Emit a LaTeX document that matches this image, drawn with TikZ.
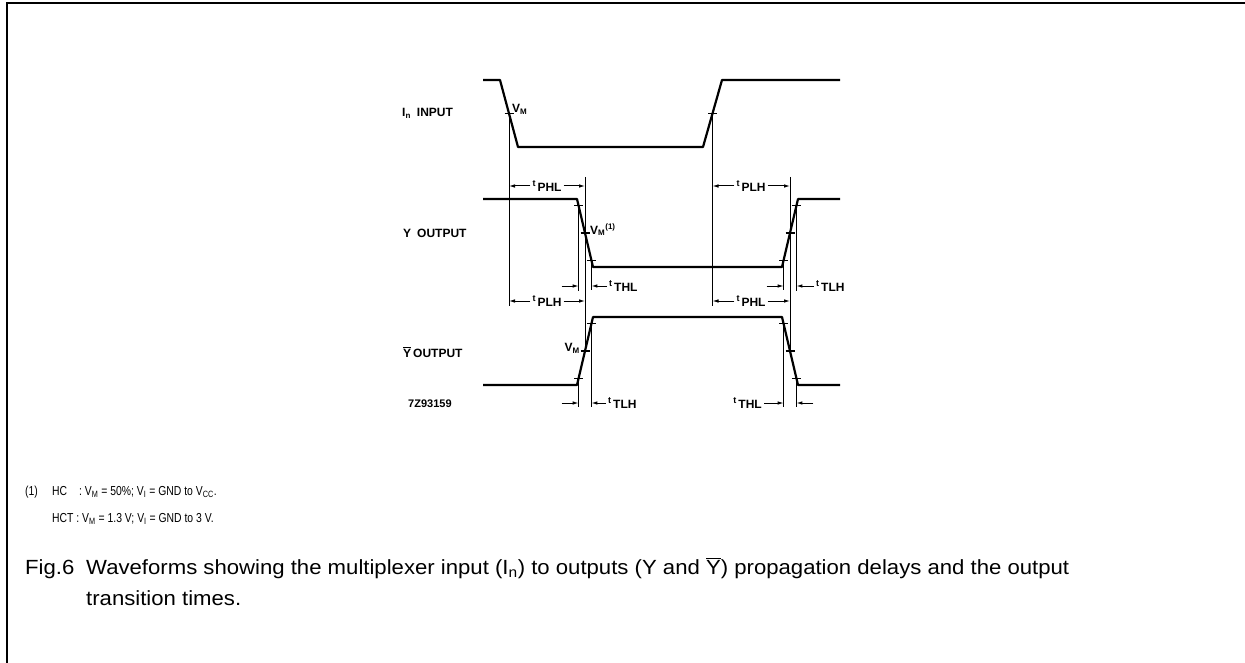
\documentclass[tikz,border=0pt]{standalone}
\usepackage{fontspec}
\setmainfont{Liberation Sans}
\newfontfamily\narrowfont{Liberation Sans}[FakeStretch=0.8]
\newfontfamily\capfont{Liberation Sans}[FakeStretch=1.08]
\usetikzlibrary{positioning, calc, arrows.meta}
\newcommand{\tdel}[1]{\raisebox{3pt}{\fontsize{9}{9}\selectfont t}\,\raisebox{-1.5pt}{#1}}
\tikzset{
x=1pt, y=-1pt, % pixel units, y runs downwards
frame/.style={line width=1.6pt},
wave/.style={line width=2.2pt, line join=round},
guide/.style={line width=0.8pt},
tick/.style={line width=1.1pt},
tarrow/.style={-{Latex[length=6pt, width=3.6pt]}, line width=1pt},
sig/.style={font=\fontsize{12}{14}\selectfont\bfseries, inner sep=0pt},
tname/.style={font=\fontsize{12}{14}\selectfont\bfseries, inner sep=2pt},
note/.style={font=\narrowfont\fontsize{13}{16}\selectfont, inner sep=0pt},
figcap/.style={font=\capfont\fontsize{20.5}{25}\selectfont, inner sep=0pt},
}
\begin{document}
\begin{tikzpicture}
\useasboundingbox (0,0) rectangle (1245,663);
\draw[frame] (1245,3) -- (7,3) -- (7,663);

% waveform corners
\coordinate (i0) at (483,80);  \coordinate (i1) at (500,80);
\coordinate (i2) at (518,147); \coordinate (i3) at (703,147);
\coordinate (i4) at (722,80);  \coordinate (i5) at (840,80);
\coordinate (y0) at (483,199); \coordinate (y1) at (577,199);
\coordinate (y2) at (593,267); \coordinate (y3) at (782,267);
\coordinate (y4) at (798,199); \coordinate (y5) at (840,199);
\coordinate (b0) at (483,385); \coordinate (b1) at (577,385);
\coordinate (b2) at (593,317); \coordinate (b3) at (782,317);
\coordinate (b4) at (798,385); \coordinate (b5) at (840,385);

% crossing points (10%, 50%, 90%)
\coordinate (im)  at ($(i1)!.5!(i2)$);
\coordinate (im2) at ($(i3)!.5!(i4)$);
\coordinate (yt1) at ($(y1)!.1!(y2)$); \coordinate (ym) at ($(y1)!.5!(y2)$); \coordinate (yt2) at ($(y1)!.9!(y2)$);
\coordinate (yt3) at ($(y3)!.1!(y4)$); \coordinate (yr) at ($(y3)!.5!(y4)$); \coordinate (yt4) at ($(y3)!.9!(y4)$);
\coordinate (bt1) at ($(b1)!.1!(b2)$); \coordinate (bm) at ($(b1)!.5!(b2)$); \coordinate (bt2) at ($(b1)!.9!(b2)$);
\coordinate (bt3) at ($(b3)!.1!(b4)$); \coordinate (br) at ($(b3)!.5!(b4)$); \coordinate (bt4) at ($(b3)!.9!(b4)$);

\draw[wave] (i0) -- (i1) -- (i2) -- (i3) -- (i4) -- (i5);
\draw[wave] (y0) -- (y1) -- (y2) -- (y3) -- (y4) -- (y5);
\draw[wave] (b0) -- (b1) -- (b2) -- (b3) -- (b4) -- (b5);

\foreach \p in {im,im2,yt1,ym,yt2,yt3,yr,yt4,bt1,bm,bt2,bt3,br,bt4}
    \draw[tick] (\p) ++(-4.5,0) -- ++(9,0);

% guide lines
\draw[guide] (im) -- ++(0,192);
\draw[guide] (im2) -- ++(0,192);
\draw[guide] (ym) ++(0,-56) -- (bm);
\draw[guide] (yr) ++(0,-56) -- (br);
\draw[guide] (yt1) -- ++(0,85);
\draw[guide] (yt2) -- ++(0,30);
\draw[guide] (yt3) -- ++(0,30);
\draw[guide] (yt4) -- ++(0,85);
\draw[guide] (bt1) -- ++(0,29);
\draw[guide] (bt2) -- ++(0,83);
\draw[guide] (bt3) -- ++(0,83);
\draw[guide] (bt4) -- ++(0,29);

% signal names
\node[sig, anchor=west] (insig) at (402,113) {I\textsubscript{n}\hspace{6pt}INPUT};
\node[sig, anchor=west] (ysig) at (403,233) {Y\hspace{6pt}OUTPUT};
\node[sig, anchor=west] (ybsig) at (403,352) {$\overline{\mbox{Y}}$\,OUTPUT};
\node[sig, anchor=west, font=\fontsize{11}{13}\selectfont\bfseries] (figid) at (408,404) {7Z93159};

\node[tname, anchor=west] (vmin) at (510,109) {V\textsubscript{M}};
\node[tname, anchor=west] (vmy) at (588,230) {V\textsubscript{M}\textsuperscript{(1)}};
\node[tname, anchor=east] (vmyb) at (582,348) {V\textsubscript{M}};

% propagation delays
\node[tname] (tphlA) at (547,186) {\tdel{PHL}};
\draw[tarrow] (tphlA.west) -- (tphlA.west -| im);
\draw[tarrow] (tphlA.east) -- (tphlA.east -| ym);
\node[tname] (tplhA) at (751,186) {\tdel{PLH}};
\draw[tarrow] (tplhA.west) -- (tplhA.west -| im2);
\draw[tarrow] (tplhA.east) -- (tplhA.east -| yr);
\node[tname] (tplhC) at (547,301) {\tdel{PLH}};
\draw[tarrow] (tplhC.west) -- (tplhC.west -| im);
\draw[tarrow] (tplhC.east) -- (tplhC.east -| bm);
\node[tname] (tphlC) at (751,301) {\tdel{PHL}};
\draw[tarrow] (tphlC.west) -- (tphlC.west -| im2);
\draw[tarrow] (tphlC.east) -- (tphlC.east -| br);

% transition times
\node[tname, anchor=west] (tthlB) at (607,286) {\tdel{THL}};
\draw[tarrow] (tthlB.west) -- (tthlB.west -| yt2);
\draw[tarrow] (yt1 |- tthlB.west) ++(-17,0) -- ++(17,0);
\node[tname, anchor=west] (ttlhB) at (814,286) {\tdel{TLH}};
\draw[tarrow] (ttlhB.west) -- (ttlhB.west -| yt4);
\draw[tarrow] (yt3 |- ttlhB.west) ++(-17,0) -- ++(17,0);
\node[tname, anchor=west] (ttlhD) at (606,403) {\tdel{TLH}};
\draw[tarrow] (ttlhD.west) -- (ttlhD.west -| bt2);
\draw[tarrow] (bt1 |- ttlhD.west) ++(-17,0) -- ++(17,0);
\node[tname, anchor=east] (tthlD) at (764,403) {\tdel{THL}};
\draw[tarrow] (tthlD.east) -- (tthlD.east -| bt3);
\draw[tarrow] (bt4 |- tthlD.east) ++(17,0) -- ++(-17,0);

% note and caption
\node[note, anchor=base west] (fnnum) at (25,495) {(1)};
\node[note, anchor=base west] (fnhc) at (52,495) {HC\hspace{12pt}: V\textsubscript{M} = 50\%; V\textsubscript{I} = GND to V\textsubscript{CC}.};
\node[note, anchor=base west] (fnhct) at (52,522) {HCT : V\textsubscript{M} = 1.3 V; V\textsubscript{I} = GND to 3 V.};
\node[figcap, anchor=base west] (fignum) at (25,574) {Fig.6};
\node[figcap, anchor=base west] (figline1) at (86,574) {Waveforms showing the multiplexer input (I\textsubscript{n}) to outputs (Y and $\overline{\mbox{Y}}$) propagation delays and the output};
\node[figcap, anchor=base west] (figline2) at (86,605) {transition times.};
\end{tikzpicture}
\end{document}
